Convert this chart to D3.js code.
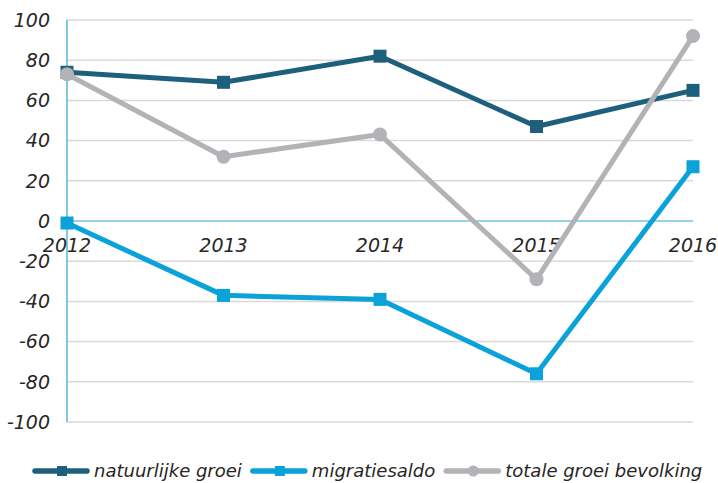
<!DOCTYPE html>
<html>
<head>
<meta charset="utf-8">
<script src="https://cdn.jsdelivr.net/npm/d3@7"></script>
<style>
  body { margin: 0; background: #fff; }
  text { font-family: "DejaVu Sans", Verdana, sans-serif; font-style: italic; fill: #262626; }
</style>
</head>
<body>
<div id="chart"></div>
<script>
// chart data
var years = ["2012", "2013", "2014", "2015", "2016"];
var natuurlijkeGroei = [74, 69, 82, 47, 65];
var migratiesaldo = [-1, -37, -39, -76, 27];
var totaleGroei = [73, 32, 43, -29, 92];
var yTicks = [100, 80, 60, 40, 20, 0, -20, -40, -60, -80, -100];

var series = [
  { name: "natuurlijke groei", values: natuurlijkeGroei, color: "#1f5f7e", marker: "square" },
  { name: "migratiesaldo", values: migratiesaldo, color: "#0ba1d9", marker: "square" },
  { name: "totale groei bevolking", values: totaleGroei, color: "#b2b2b7", marker: "circle" }
];

var svgWidth = 718;
var svgHeight = 483;
var margin = { top: 20, right: 25, bottom: 61, left: 67 };
var chartWidth = svgWidth - margin.left - margin.right;
var chartHeight = svgHeight - margin.top - margin.bottom;

var svg = d3.select("#chart").append("svg")
  .attr("width", svgWidth)
  .attr("height", svgHeight);

var chartGroup = svg.append("g")
  .attr("transform", `translate(${margin.left}, ${margin.top})`);

var xScale = d3.scalePoint()
  .domain(years)
  .range([0, chartWidth]);

var yScale = d3.scaleLinear()
  .domain([-100, 100])
  .range([chartHeight, 0]);

// gridlines
chartGroup.append("g").selectAll("line")
  .data(yTicks.filter(d => d !== 0))
  .enter()
  .append("line")
  .attr("x1", 0)
  .attr("x2", chartWidth)
  .attr("y1", d => yScale(d))
  .attr("y2", d => yScale(d))
  .attr("stroke", "#d9d9d9")
  .attr("stroke-width", 1.5);

// y tick labels
chartGroup.append("g").selectAll("text")
  .data(yTicks)
  .enter()
  .append("text")
  .attr("x", -17)
  .attr("y", d => yScale(d))
  .attr("dy", "0.36em")
  .attr("text-anchor", "end")
  .style("font-size", "19px")
  .text(d => d);

// zero line and y axis line
chartGroup.append("line")
  .attr("x1", 0).attr("x2", chartWidth)
  .attr("y1", yScale(0)).attr("y2", yScale(0))
  .attr("stroke", "#2aa3d3").attr("stroke-width", 1);

chartGroup.append("line")
  .attr("x1", 0).attr("x2", 0)
  .attr("y1", 0).attr("y2", chartHeight)
  .attr("stroke", "#2aa3d3").attr("stroke-width", 1.2);

// category labels below zero line
chartGroup.append("g").selectAll("text")
  .data(years)
  .enter()
  .append("text")
  .attr("x", d => xScale(d))
  .attr("y", yScale(0) + 31)
  .attr("text-anchor", "middle")
  .style("font-size", "19px")
  .text(d => d);

var line = d3.line()
  .x((d, i) => xScale(years[i]))
  .y(d => yScale(d));

function drawMarker(sel, type, color, size) {
  if (type === "square") {
    sel.append("rect")
      .attr("x", -size / 2).attr("y", -size / 2)
      .attr("width", size).attr("height", size)
      .attr("fill", color);
  } else {
    sel.append("circle")
      .attr("r", size / 2 + 0.5)
      .attr("fill", color);
  }
}

series.forEach(function(s) {
  chartGroup.append("path")
    .datum(s.values)
    .attr("fill", "none")
    .attr("stroke", s.color)
    .attr("stroke-width", 5)
    .attr("stroke-linejoin", "round")
    .attr("d", line);

  chartGroup.append("g").selectAll("g")
    .data(s.values)
    .enter()
    .append("g")
    .attr("transform", (d, i) => `translate(${xScale(years[i])}, ${yScale(d)})`)
    .each(function() { drawMarker(d3.select(this), s.marker, s.color, 13); });
});

// legend
var legendGroup = svg.append("g").attr("transform", "translate(0, 471)");
var cursor = 35;
series.forEach(function(s) {
  var g = legendGroup.append("g").attr("transform", `translate(${cursor}, 0)`);
  g.append("line")
    .attr("x1", 0).attr("x2", 52)
    .attr("y1", 0).attr("y2", 0)
    .attr("stroke", s.color).attr("stroke-width", 5.5)
    .attr("stroke-linecap", "round");
  var m = g.append("g").attr("transform", "translate(27, 0)");
  drawMarker(m, s.marker, s.color, 10);
  var t = g.append("text")
    .attr("x", 59)
    .attr("y", 0)
    .attr("dy", "0.35em")
    .style("font-size", "18px")
    .text(s.name);
  cursor += 59 + t.node().getComputedTextLength() + 11;
});
</script>
</body>
</html>
